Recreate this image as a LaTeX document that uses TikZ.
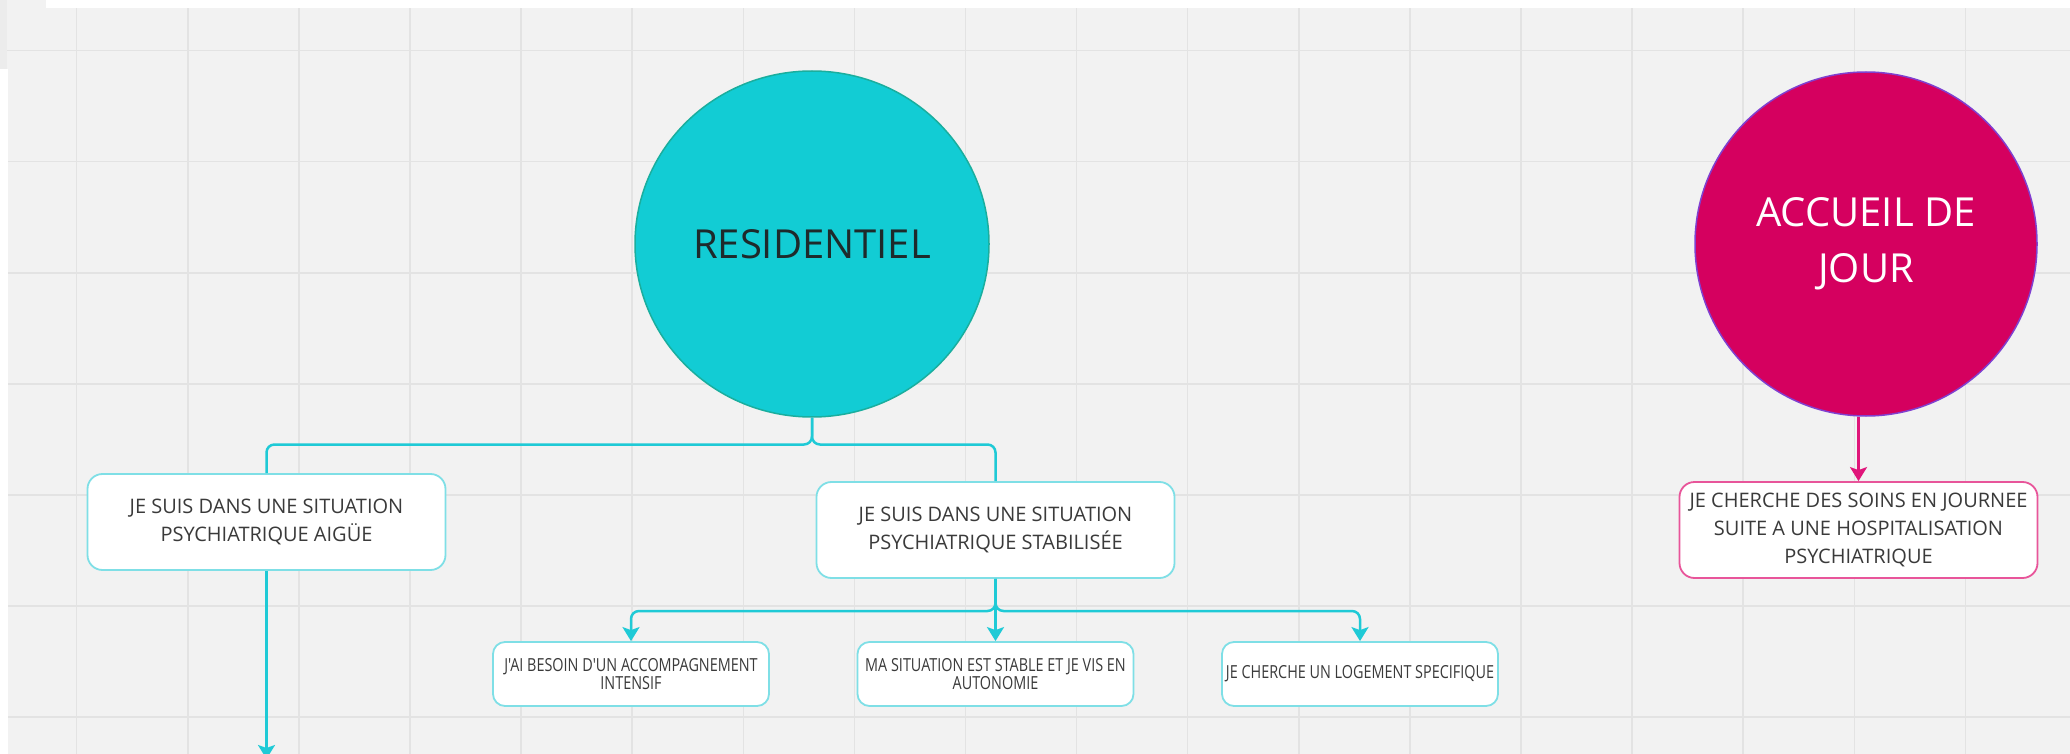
\documentclass[tikz,border=0pt]{standalone}
\usepackage{fontspec}
\setmainfont{Open Sans}
\newfontfamily\condfont[FakeStretch=0.8]{Open Sans}
\usetikzlibrary{arrows.meta,shapes.geometric}
\definecolor{gridbg}{HTML}{F2F2F2}
\definecolor{gridln}{HTML}{E3E3E3}
\definecolor{cornerbg}{HTML}{ECECEC}
\definecolor{tealfill}{HTML}{12CCD4}
\definecolor{tealedge}{HTML}{1AAE9E}
\definecolor{tealline}{HTML}{1FCAD6}
\definecolor{tealbox}{HTML}{7FDFE6}
\definecolor{pinkfill}{HTML}{D5005F}
\definecolor{pinkedge}{HTML}{8040D0}
\definecolor{pinkline}{HTML}{E0157A}
\definecolor{pinkbox}{HTML}{E8559A}
\definecolor{txt}{HTML}{3A3A3A}
\definecolor{restxt}{HTML}{1E2A2B}
\begin{document}
\begin{tikzpicture}[x=1pt,y=-1pt,
  bigcirc/.style={ellipse, inner sep=0pt, line width=1.5pt, align=center},
  bigbox/.style={rectangle, rounded corners=15pt, minimum width=358pt, minimum height=96pt, inner sep=0pt, fill=white, line width=1.8pt, align=center, text=txt, font=\fontsize{20}{28}\selectfont},
  smallbox/.style={rectangle, rounded corners=12pt, minimum width=276pt, minimum height=64pt, inner sep=0pt, fill=white, draw=tealbox, line width=1.8pt, align=center, text=txt, font=\condfont\fontsize{18}{17.5}\selectfont},
  tline/.style={draw=tealline, line width=2.5pt, rounded corners=8pt},
  tarrow/.style={tline, -{Stealth[length=14pt,width=17pt,inset=3pt]}},
  pline/.style={draw=pinkline, line width=2.5pt, -{Stealth[length=14pt,width=17pt,inset=3pt]}},
  gridline/.style={draw=gridln, line width=1.5pt}
]
\useasboundingbox (0,0) rectangle (2070,754);
\clip (0,0) rectangle (2070,754);
% background and grid
\fill[gridbg] (0,0) rectangle (2070,754);
\foreach \i in {0,...,18} {\draw[gridline] (76.7+111.1*\i,0) -- (76.7+111.1*\i,754);}
\foreach \j in {0,...,6} {\draw[gridline] (0,50.6+111.1*\j) -- (2070,50.6+111.1*\j);}
\fill[white] (46,0) rectangle (2070,8);
\fill[white] (0,69) rectangle (8,754);
\fill[cornerbg] (0,0) rectangle (7,69);

% circles
\node[bigcirc, minimum width=354pt, minimum height=346pt, fill=tealfill, draw=tealedge, text=restxt, font=\fontsize{40}{56}\selectfont] (res) at (812,244) {RESIDENTIEL};
\node[bigcirc, minimum width=342pt, minimum height=344pt, fill=pinkfill, draw=pinkedge, text=white, font=\fontsize{40}{56}\selectfont] (acc) at (1866,244) {ACCUEIL DE\\JOUR};

% boxes
\node[bigbox, draw=tealbox] (aigue) at (266.5,522) {JE SUIS DANS UNE SITUATION\\PSYCHIATRIQUE AIGÜE};
\node[bigbox, draw=tealbox] (stab) at (995.5,530) {JE SUIS DANS UNE SITUATION\\PSYCHIATRIQUE STABILISÉE};
\node[bigbox, draw=pinkbox] (soins) at (1858.5,530) {JE CHERCHE DES SOINS EN JOURNEE\\SUITE A UNE HOSPITALISATION\\PSYCHIATRIQUE};
\node[smallbox] (intens) at (631,674) {J'AI BESOIN D'UN ACCOMPAGNEMENT\\INTENSIF};
\node[smallbox] (auto) at (995.5,674) {MA SITUATION EST STABLE ET JE VIS EN\\AUTONOMIE};
\node[smallbox] (logt) at (1360,674) {JE CHERCHE UN LOGEMENT SPECIFIQUE};

% connectors
\coordinate (f1) at (812,444.5);
\coordinate (f2) at (995.5,611);
\coordinate (endc) at (266.5,759);
\draw[tline] (res.south) -- (f1) -| (aigue.north);
\draw[tline] (res.south) -- (f1) -| (stab.north);
\draw[tarrow] (stab.south) -- (f2) -| (intens.north);
\draw[tarrow] (stab.south) -- (auto.north);
\draw[tarrow] (stab.south) -- (f2) -| (logt.north);
\draw[tarrow] (aigue.south) -- (endc);
\draw[pline] (acc.south -| soins.north) -- (soins.north);
\end{tikzpicture}
\end{document}
